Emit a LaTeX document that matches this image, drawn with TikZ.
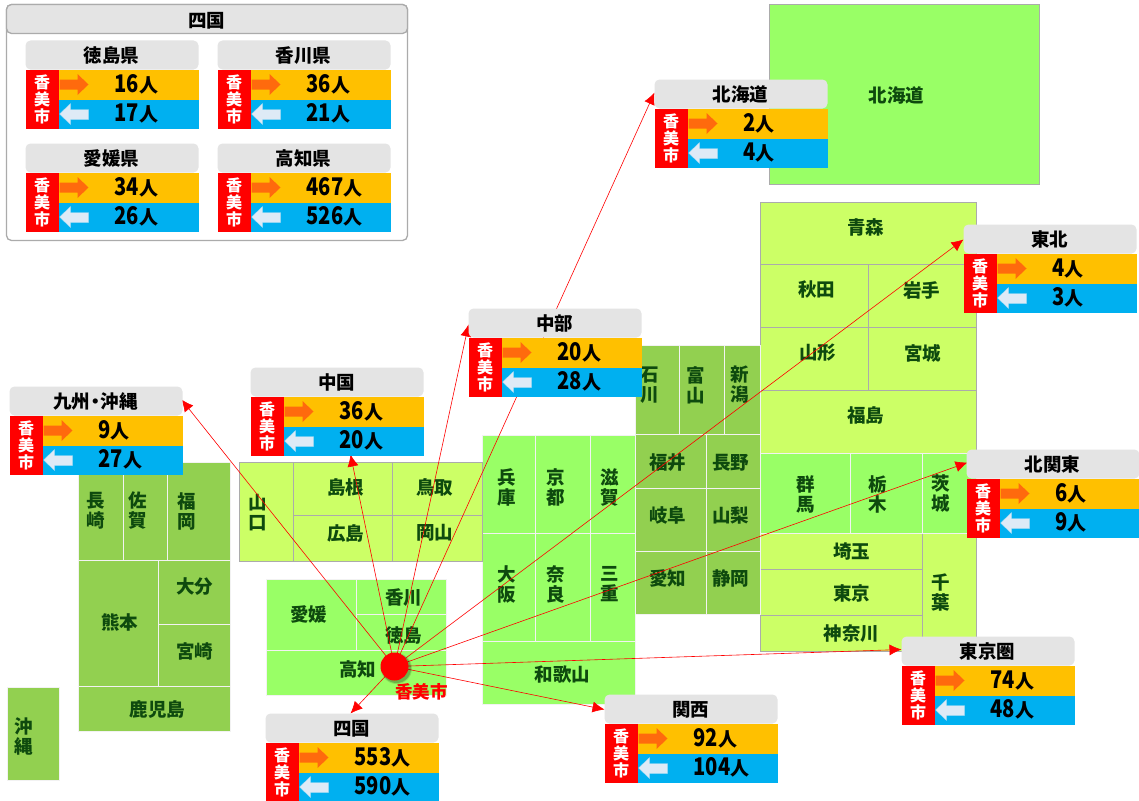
\documentclass[tikz,border=0pt]{standalone}
\usepackage{fontspec}
\usetikzlibrary{arrows.meta}
\setmainfont{Noto Sans CJK JP}
\definecolor{cA}{HTML}{99FF66}
\definecolor{cB}{HTML}{CCFF66}
\definecolor{cC}{HTML}{92D050}
\definecolor{cT}{HTML}{0E4A0E}
\definecolor{cH}{HTML}{E4E4E4}
\definecolor{cO}{HTML}{FFC000}
\definecolor{cS}{HTML}{00B0F0}
\definecolor{cAo}{HTML}{FF6A0D}
\definecolor{cAb}{HTML}{DEEAF6}
\definecolor{cG}{HTML}{ABABAB}
\newcount\cellno
\tikzset{
  maptext/.style={font=\bfseries\fontsize{18.5}{20}\selectfont,text=cT,align=center,inner sep=0pt,yshift=-.5pt},
  title/.style={font=\bfseries\fontsize{18.5}{20}\selectfont,text=black,inner sep=0pt},
  num/.style={font=\bfseries\fontsize{19}{20}\selectfont,text=black,inner sep=0pt,anchor=base west},
  city/.style={font=\bfseries\fontsize{16}{17}\selectfont,text=white,align=center,inner sep=0pt},
  link/.style={draw=red,line width=0.6pt,-{Latex[length=12pt,width=11pt]}},
  wb/.style={draw=white!90!gray,line width=1pt},
  gb/.style={draw=cG,line width=1pt},
}
% \cell{style}{x1}{y1}{x2}{y2}{tx}{ty}{text}
\newcommand{\cell}[8]{\global\advance\cellno by 1
  \path[#1] (#2,#3) rectangle (#4,#5);
  \node[maptext] (cell\the\cellno) at (#6,#7) {#8};}
\newcommand{\numtxt}[1]{\scalebox{1.06}[1.28]{#1}人}
% \infobox{name}{x}{y}{title}{out}{in}
\newcommand{\infobox}[6]{%
  \begin{scope}[shift={(#2,#3)}]
    \path[fill=cH,rounded corners=5pt] (0,29) -- (0,0) -- (173,0) -- (173,29) -- cycle;
    \path[fill=cO] (33,29) rectangle (173,59);
    \path[fill=cS] (33,59) rectangle (173,88);
    \path[fill=red] (0,29) rectangle (33,88);
    \path[fill=cAo] (34,39) -- (52,39) -- (52,33.5) -- (63,44) -- (52,54.5) -- (52,49) -- (34,49) -- cycle;
    \path[fill=cAb,draw=cAb!70!cS,line width=.3pt] (63,69) -- (45,69) -- (45,63) -- (34,73.5) -- (45,84) -- (45,79) -- (63,79) -- cycle;
    \node[title] (#1t) at (86,15) {#4};
    \node[city] (#1c) at (16.5,59) {香\\美\\市};
    \node[num] (#1o) at (89,52) {\numtxt{#5}};
    \node[num] (#1i) at (89,81) {\numtxt{#6}};
  \end{scope}}
\begin{document}
\begin{tikzpicture}[x=1pt,y=-1pt]
\useasboundingbox (0.5,0.5) rectangle (1139.5,800.5);
\path[fill=white] (0.5,0.5) rectangle (1139.5,800.5);
% Hokkaido
\cell{fill=cA,gb}{770}{5}{1040}{185}{897}{95}{北海道}
% Tohoku
\cell{fill=cB,gb}{761}{203}{977}{265}{866}{227}{青森}
\cell{fill=cB,gb}{761}{265}{869}{328}{817}{290}{秋田}
\cell{fill=cB,gb}{869}{265}{977}{328}{922}{290}{岩手}
\cell{fill=cB,gb}{761}{328}{869}{391}{818}{353}{山形}
\cell{fill=cB,gb}{869}{328}{977}{391}{923}{353}{宮城}
\cell{fill=cB,gb}{761}{391}{977}{454}{866}{415}{福島}
% Kanto
\cell{fill=cB,gb}{761}{534}{923}{570}{852}{552}{埼玉}
\cell{fill=cB,gb}{761}{570}{923}{616}{852}{593}{東京}
\cell{fill=cB,gb}{761}{616}{923}{652}{852}{634}{神奈川}
\cell{fill=cB,gb}{923}{534}{977}{652}{941}{592}{千\\葉}
\cell{fill=cA,wb}{761}{454}{851}{534}{806}{494}{群\\馬}
\cell{fill=cA,wb}{851}{454}{923}{534}{878}{494}{栃\\木}
\cell{fill=cA,wb}{923}{454}{977}{534}{941}{494}{茨\\城}
% Chubu
\cell{fill=cC,wb}{636}{346}{680}{435}{650}{385}{石\\川}
\cell{fill=cC,wb}{680}{346}{725}{435}{696}{385}{富\\山}
\cell{fill=cC,wb}{725}{346}{761}{435}{740}{385}{新\\潟}
\cell{fill=cC,wb}{636}{435}{707}{489}{668}{463}{福井}
\cell{fill=cC,wb}{707}{435}{761}{489}{731}{463}{長野}
\cell{fill=cC,wb}{636}{489}{707}{552}{668}{515}{岐阜}
\cell{fill=cC,wb}{707}{489}{761}{552}{731}{515}{山梨}
\cell{fill=cC,wb}{636}{552}{707}{615}{668}{578}{愛知}
\cell{fill=cC,wb}{707}{552}{761}{615}{731}{578}{静岡}
% Kansai
\cell{fill=cA,wb}{483}{436}{536}{534}{507}{487}{兵\\庫}
\cell{fill=cA,wb}{536}{436}{591}{534}{556}{487}{京\\都}
\cell{fill=cA,wb}{591}{436}{636}{534}{610}{487}{滋\\賀}
\cell{fill=cA,wb}{483}{534}{536}{642}{507}{584}{大\\阪}
\cell{fill=cA,wb}{536}{534}{591}{642}{556}{584}{奈\\良}
\cell{fill=cA,wb}{591}{534}{636}{642}{610}{584}{三\\重}
\cell{fill=cA,wb}{483}{642}{636}{705}{563}{674}{和歌山}
% Chugoku
\cell{fill=cB,gb}{240}{463}{294}{562}{258}{513}{山\\口}
\cell{fill=cB,gb}{294}{463}{393}{516}{346}{487}{島根}
\cell{fill=cB,gb}{393}{463}{483}{516}{435}{487}{鳥取}
\cell{fill=cB,gb}{294}{516}{393}{562}{346}{533}{広島}
\cell{fill=cB,gb}{393}{516}{483}{562}{435}{533}{岡山}
% Shikoku
\cell{fill=cA,wb}{267}{580}{357}{651}{309}{614}{愛媛}
\cell{fill=cA,wb}{357}{580}{447}{615}{404}{598}{香川}
\cell{fill=cA,wb}{357}{615}{447}{651}{404}{635}{徳島}
\cell{fill=cA,wb}{267}{651}{447}{696}{358}{669}{高知}
% Kyushu
\cell{fill=cC,wb}{79}{463}{124}{561}{96}{511}{長\\崎}
\cell{fill=cC,wb}{124}{463}{168}{561}{138}{511}{佐\\賀}
\cell{fill=cC,wb}{168}{463}{231}{561}{187}{511}{福\\岡}
\cell{fill=cC,wb}{79}{561}{159}{687}{120}{622}{熊本}
\cell{fill=cC,wb}{159}{561}{231}{625}{195}{587}{大分}
\cell{fill=cC,wb}{159}{625}{231}{687}{195}{651}{宮崎}
\cell{fill=cC,wb}{79}{687}{231}{732}{158}{710}{鹿児島}
\cell{fill=cC,wb}{8}{688}{60}{781}{24}{736}{沖\\縄}
% city marker position and link ends
\coordinate (origin) at (395,667);
\coordinate (eKita) at (655,93);
\coordinate (eToh) at (964,240);
\coordinate (eChb) at (469,325);
\coordinate (eChg) at (351,455);
\coordinate (eKyu) at (182,400);
\coordinate (eKKa) at (968,463);
\coordinate (eTok) at (902,650);
\coordinate (eKan) at (605,710);
\coordinate (eShi) at (351,714);
\foreach \e in {eKita,eToh,eChb,eChg,eKyu,eKKa,eTok,eKan,eShi}
  \draw[link] (origin) -- (\e);
% boxes
\infobox{kita}{655}{80}{北海道}{2}{4}
\infobox{toh}{964}{225}{東北}{4}{3}
\infobox{chb}{469}{309}{中部}{20}{28}
\infobox{chg}{251}{368}{中国}{36}{20}
\infobox{kyu}{10}{387}{九州\kern-4pt・\kern-4pt沖縄}{9}{27}
\infobox{kka}{967}{450}{北関東}{6}{9}
\infobox{tok}{902}{637}{東京圏}{74}{48}
\infobox{kan}{605}{695}{関西}{92}{104}
\infobox{shi}{266}{714}{四国}{553}{590}
% Shikoku panel
\draw[draw=cG,line width=1.3pt,fill=white,rounded corners=5pt] (7,5) rectangle (408,241);
\path[fill=cH,draw=cG,line width=1.3pt,rounded corners=5pt] (7,34) -- (7,5) -- (408,5) -- (408,34) -- cycle;
\node[title] (panelt) at (207,21) {四国};
\infobox{pa}{26}{41}{徳島県}{16}{17}
\infobox{pb}{218}{41}{香川県}{36}{21}
\infobox{pc}{26}{144}{愛媛県}{34}{26}
\infobox{pd}{218}{144}{高知県}{467}{526}
% marker
\path[fill=black,opacity=.12] (397,669) circle[radius=15.5];
\path[fill=black,opacity=.2] (397,669) circle[radius=14.5];
\node[circle,fill=red,minimum size=28pt,inner sep=0pt] (dot) at (origin) {};
\node[font=\bfseries\fontsize{17.5}{18}\selectfont,text=red,inner sep=0pt] (citylabel) at (422,692) {香美市};
\end{tikzpicture}
\end{document}
